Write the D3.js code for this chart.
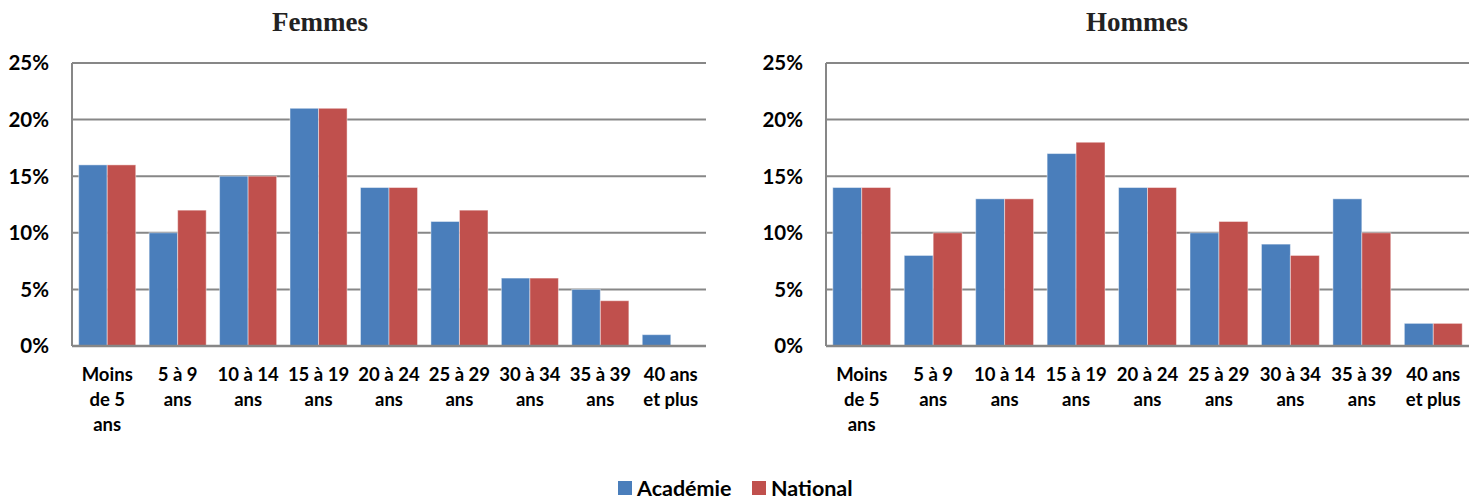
<!DOCTYPE html>
<html>
<head>
<meta charset="utf-8">
<script src="https://cdn.jsdelivr.net/npm/d3@7"></script>
<style>
  html, body { margin: 0; padding: 0; background: #fff; }
  svg { display: block; }
</style>
</head>
<body>
<svg id="chart" width="1481" height="501"></svg>
<script>
// Age groups (multi-line labels split on "|")
const categories = ["Moins|de 5|ans", "5 à 9|ans", "10 à 14|ans", "15 à 19|ans", "20 à 24|ans",
                    "25 à 29|ans", "30 à 34|ans", "35 à 39|ans", "40 ans|et plus"];
const seriesNames = ["Académie", "National"];
const femmesAcademie = [16, 10, 15, 21, 14, 11, 6, 5, 1];
const femmesNational = [16, 12, 15, 21, 14, 12, 6, 4, 0];
const hommesAcademie = [14, 8, 13, 17, 14, 10, 9, 13, 2];
const hommesNational = [14, 10, 13, 18, 14, 11, 8, 10, 2];
const yTicks = [0, 5, 10, 15, 20, 25];

const colors = ["#4a7ebb", "#c0504d"];
const gridColor = "#878787";
const sansFont = "Lato, 'Open Sans', sans-serif";

const svg = d3.select("#chart");

function drawPanel(cfg) {
  const g = svg.append("g");
  const x = d3.scaleBand().domain(d3.range(categories.length)).range([cfg.x0, cfg.x1]).paddingInner(0.19).paddingOuter(0.095);
  const y = d3.scaleLinear().domain([0, 25]).range([cfg.yBottom, cfg.yTop]);
  const xs = d3.scaleBand().domain([0, 1]).range([0, x.bandwidth()]);

  // title
  g.append("text").attr("x", cfg.titleX).attr("y", 31)
    .attr("text-anchor", "middle")
    .style("font-family", "'Liberation Serif', 'DejaVu Serif', serif")
    .style("font-weight", "bold").style("font-size", "27px").style("fill", "#222")
    .text(cfg.title);

  // gridlines
  g.append("g").selectAll("line").data(yTicks).join("line")
    .attr("x1", cfg.x0).attr("x2", cfg.x1)
    .attr("y1", d => y(d)).attr("y2", d => y(d))
    .attr("stroke", gridColor).attr("stroke-width", 2);

  // y axis line
  g.append("line").attr("x1", cfg.x0).attr("x2", cfg.x0)
    .attr("y1", y(25)).attr("y2", y(0))
    .attr("stroke", gridColor).attr("stroke-width", 2);

  // y tick labels
  g.append("g").selectAll("text").data(yTicks).join("text")
    .attr("x", cfg.x0 - 23).attr("y", d => y(d)).attr("dy", "0.36em")
    .attr("text-anchor", "end")
    .style("font-family", sansFont).style("font-weight", "bold").style("font-size", "20.5px").style("fill", "#000")
    .text(d => d + "%");

  // bars
  const rows = categories.map((c, i) => ({ i, vals: [cfg.a[i], cfg.n[i]] }));
  const grp = g.append("g").selectAll("g").data(rows).join("g")
    .attr("transform", d => `translate(${x(d.i)},0)`);
  grp.selectAll("rect").data(d => d.vals.map((v, s) => ({ v, s }))).join("rect")
    .filter(d => d.v > 0)
    .attr("x", d => xs(d.s)).attr("width", xs.bandwidth())
    .attr("y", d => y(d.v)).attr("height", d => y(0) - y(d.v))
    .attr("fill", d => colors[d.s])
    .attr("stroke", "#fff").attr("stroke-opacity", 0.45).attr("stroke-width", 1);

  // redraw baseline over bars
  g.append("line").attr("x1", cfg.x0).attr("x2", cfg.x1)
    .attr("y1", y(0)).attr("y2", y(0))
    .attr("stroke", gridColor).attr("stroke-width", 2.5);

  // category labels
  const lab = g.append("g").selectAll("text").data(categories).join("text")
    .attr("text-anchor", "middle")
    .style("font-family", sansFont).style("font-weight", "bold").style("font-size", "18.5px").style("fill", "#000");
  lab.each(function (d, i) {
    const t = d3.select(this);
    d.split("|").forEach((line, k) => {
      t.append("tspan").attr("x", x(i) + x.bandwidth() / 2).attr("y", 381 + k * 25).text(line);
    });
  });
}

drawPanel({ title: "Femmes", titleX: 320, x0: 72, x1: 706, yTop: 63, yBottom: 346, a: femmesAcademie, n: femmesNational });
drawPanel({ title: "Hommes", titleX: 1137, x0: 826, x1: 1469, yTop: 63, yBottom: 346, a: hommesAcademie, n: hommesNational });

// legend
const legend = svg.append("g").attr("transform", "translate(618,481)");
const items = [{ name: seriesNames[0], x: 0 }, { name: seriesNames[1], x: 134 }];
items.forEach((it, i) => {
  legend.append("rect").attr("x", it.x).attr("y", 0).attr("width", 14).attr("height", 14).attr("fill", colors[i]);
  legend.append("text").attr("x", it.x + 19).attr("y", 15)
    .style("font-family", sansFont).style("font-weight", "bold").style("font-size", "21.5px").style("fill", "#000")
    .text(it.name);
});
</script>
</body>
</html>
